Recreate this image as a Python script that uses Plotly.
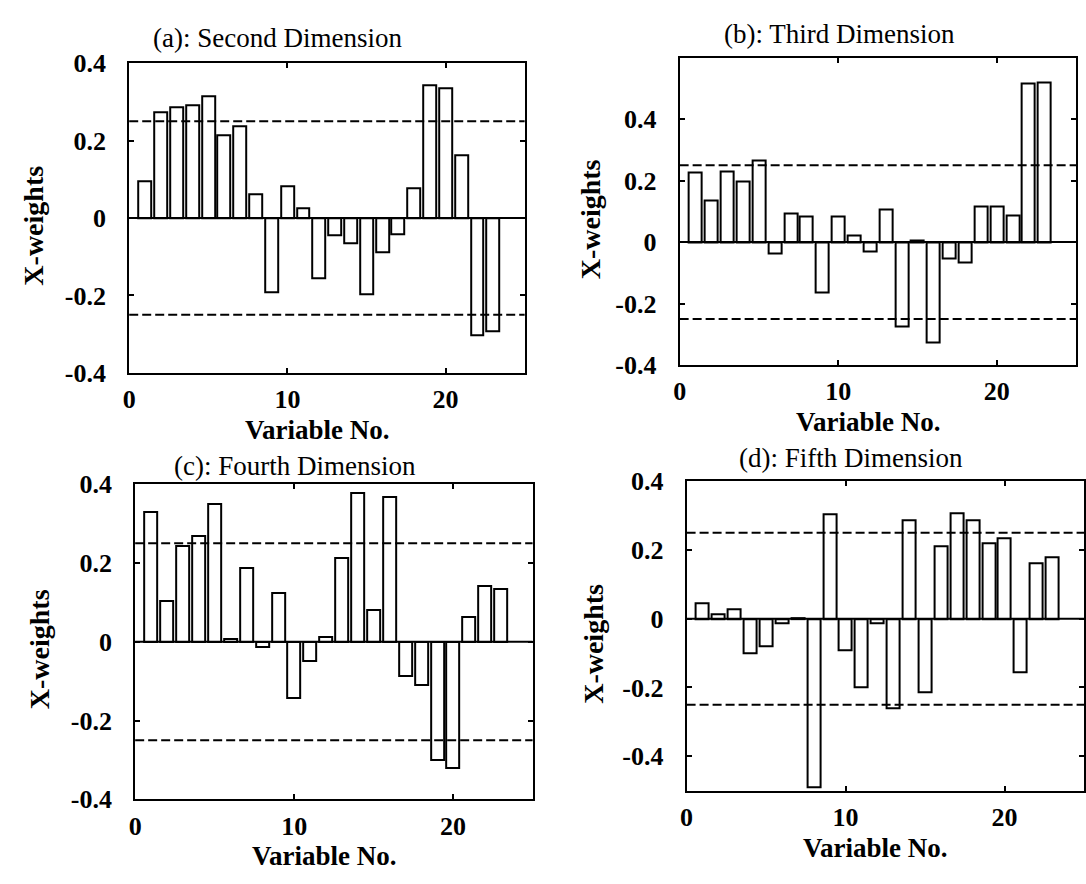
import plotly.graph_objects as go
from plotly.subplots import make_subplots

# X-weights for variables 1..23 on each latent dimension
variables = list(range(1, 24))
second_dim = [0.094, 0.274, 0.287, 0.292, 0.315, 0.214, 0.237, 0.061, -0.191, 0.083,
              0.024, -0.157, -0.045, -0.066, -0.196, -0.088, -0.043, 0.078, 0.342, 0.336,
              0.163, -0.302, -0.292]
third_dim = [0.227, 0.135, 0.229, 0.198, 0.265, -0.038, 0.092, 0.084, -0.164, 0.083,
             0.022, -0.032, 0.106, -0.276, 0.005, -0.326, -0.054, -0.065, 0.116, 0.116,
             0.086, 0.515, 0.518]
fourth_dim = [0.328, 0.103, 0.242, 0.267, 0.349, 0.008, 0.186, -0.014, 0.123, -0.143,
              -0.05, 0.012, 0.213, 0.377, 0.08, 0.366, -0.087, -0.11, -0.301, -0.32,
              0.062, 0.142, 0.133]
fifth_dim = [0.044, 0.012, 0.027, -0.10, -0.08, -0.012, 0.003, -0.49, 0.305, -0.09,
             -0.20, -0.012, -0.26, 0.288, -0.215, 0.21, 0.307, 0.288, 0.22, 0.235,
             -0.155, 0.163, 0.178]

titles = ["(a): Second Dimension", "(b): Third Dimension",
          "(c): Fourth Dimension", "(d): Fifth Dimension"]
series = [second_dim, third_dim, fourth_dim, fifth_dim]
y_ranges = [[-0.4, 0.4], [-0.4, 0.6], [-0.4, 0.4], [-0.5, 0.4]]
y_ticks = [-0.4, -0.2, 0, 0.2, 0.4]
y_ticktext = ["-0.4", "-0.2", "0", "0.2", "0.4"]
x_ticks = [0, 10, 20]
threshold = 0.25

FONT = "Liberation Serif"

# panel boxes in pixels (left, right, top, bottom) on a 1086x884 canvas
W, H = 1086, 884
boxes = [(123, 521, 51, 371), (677, 1076, 45, 363),
         (129, 529, 486, 812), (684, 1084, 483, 803)]
title_pos = [(272, 25), (838, 21), (290, 467), (849, 459)]
ytitle_x = [27, 587, 33, 590]
ytitle_shift = 8
xtitle_gap = 59

fig = make_subplots(rows=2, cols=2)

for i, (vals, yr) in enumerate(zip(series, y_ranges)):
    r, c = i // 2 + 1, i % 2 + 1
    fig.add_trace(go.Bar(x=variables, y=vals, width=0.82,
                         marker=dict(color="white", line=dict(color="black", width=2)),
                         showlegend=False), row=r, col=c)
    l, rt, t, b = boxes[i]
    ax = "" if i == 0 else str(i + 1)
    fig.layout["xaxis" + ax].update(
        domain=[l / W, rt / W], range=[0, 25], tickvals=x_ticks,
        ticks="inside", ticklen=5, tickwidth=1.5, tickcolor="black",
        showline=True, linecolor="black", linewidth=2, mirror="allticks",
        showgrid=False, zeroline=False,
        tickfont=dict(family=FONT, size=26, color="black", weight="bold"),
        ticklabelstandoff=2)
    fig.layout["yaxis" + ax].update(
        domain=[1 - b / H, 1 - t / H], range=yr, tickvals=y_ticks,
        ticktext=y_ticktext,
        ticks="inside", ticklen=5, tickwidth=1.5, tickcolor="black",
        showline=True, linecolor="black", linewidth=2, mirror="allticks",
        showgrid=False, zeroline=False,
        tickfont=dict(family=FONT, size=26, color="black", weight="bold"),
        ticklabelstandoff=16)

    xref = "x" + ax
    yref = "y" + ax
    # zero line and +/- threshold lines
    fig.add_shape(type="line", xref=xref + " domain", yref=yref, x0=0, x1=1, y0=0, y1=0,
                  line=dict(color="black", width=2), layer="above")
    for th in (threshold, -threshold):
        fig.add_shape(type="line", xref=xref + " domain", yref=yref, x0=0, x1=1,
                      y0=th, y1=th, line=dict(color="black", width=2, dash="9px,4px"),
                      layer="above")

    tx, ty = title_pos[i]
    fig.add_annotation(text=titles[i], xref="paper", yref="paper", x=tx / W, y=1 - ty / H,
                       showarrow=False, xanchor="center", yanchor="middle",
                       font=dict(family=FONT, size=27, color="black"))
    fig.add_annotation(text="Variable No.", xref=xref, yref="paper", x=11.9,
                       y=1 - (b + xtitle_gap) / H, showarrow=False, xanchor="center",
                       yanchor="middle",
                       font=dict(family=FONT, size=27, color="black", weight="bold"))
    fig.add_annotation(text="X-weights", xref="paper", yref="paper", x=ytitle_x[i] / W,
                       y=1 - ((t + b) / 2 + ytitle_shift) / H, textangle=-90,
                       showarrow=False, xanchor="center", yanchor="middle",
                       font=dict(family=FONT, size=28, color="black", weight="bold"))

fig.update_layout(width=W, height=H, margin=dict(l=0, r=0, t=0, b=0),
                  paper_bgcolor="white", plot_bgcolor="white", bargap=0)

fig.write_html("out.html")
